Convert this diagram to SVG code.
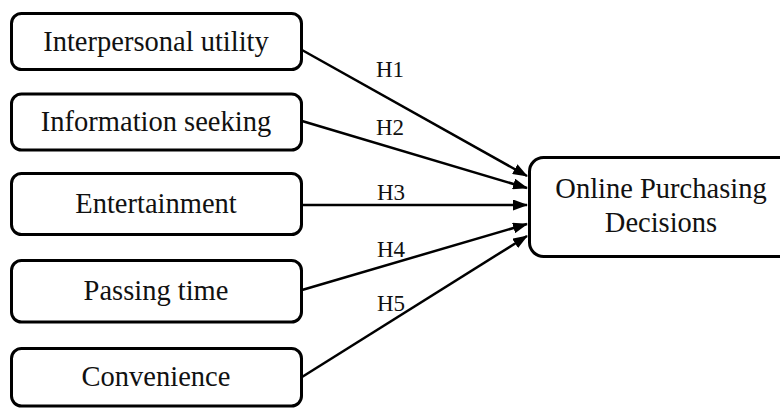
<svg xmlns="http://www.w3.org/2000/svg" width="780" height="408" viewBox="0 0 780 408">
<style>
.box{fill:#fff;stroke:#000;stroke-width:3}
.t{font-family:"Liberation Serif","Times New Roman",serif;font-size:28.5px;fill:#111;text-anchor:middle}
.h{font-family:"Liberation Serif","Times New Roman",serif;font-size:23px;fill:#111}
.c{stroke:#000;stroke-width:2.5;fill:none;marker-end:url(#arr)}
</style>
<defs>
<marker id="arr" markerUnits="userSpaceOnUse" markerWidth="15" markerHeight="11" refX="14" refY="5.5" orient="auto">
<path d="M0,0 L15,5.5 L0,11 Z" fill="#000"/>
</marker>
</defs>
<rect width="780" height="408" fill="#fff"/>
<g id="connectors">
<line class="c" x1="302" y1="50" x2="527" y2="176"/>
<line class="c" x1="302" y1="121" x2="527" y2="188"/>
<line class="c" x1="302" y1="205" x2="527" y2="205"/>
<line class="c" x1="302" y1="290" x2="527" y2="224"/>
<line class="c" x1="302" y1="377" x2="527" y2="236"/>
<text class="h" x="376" y="77">H1</text>
<text class="h" x="376" y="135">H2</text>
<text class="h" x="377" y="200">H3</text>
<text class="h" x="377" y="257">H4</text>
<text class="h" x="377" y="311">H5</text>
</g>
<g id="n1"><rect class="box" x="11.5" y="13.5" width="290" height="56" rx="10"/><text class="t" x="156" y="51">Interpersonal utility</text></g>
<g id="n2"><rect class="box" x="11.5" y="94" width="290" height="56" rx="10"/><text class="t" x="156" y="131">Information seeking</text></g>
<g id="n3"><rect class="box" x="11.5" y="173.5" width="290" height="61" rx="10"/><text class="t" x="156" y="213">Entertainment</text></g>
<g id="n4"><rect class="box" x="11.5" y="260.5" width="290" height="61.5" rx="10"/><text class="t" x="156" y="300">Passing time</text></g>
<g id="n5"><rect class="box" x="11.5" y="348.5" width="290" height="57.5" rx="10"/><text class="t" x="156" y="386">Convenience</text></g>
<g id="out"><rect class="box" x="529.5" y="157.5" width="265" height="99" rx="14"/><text class="t" x="661" y="198">Online Purchasing</text><text class="t" x="661" y="232">Decisions</text></g>
</svg>
